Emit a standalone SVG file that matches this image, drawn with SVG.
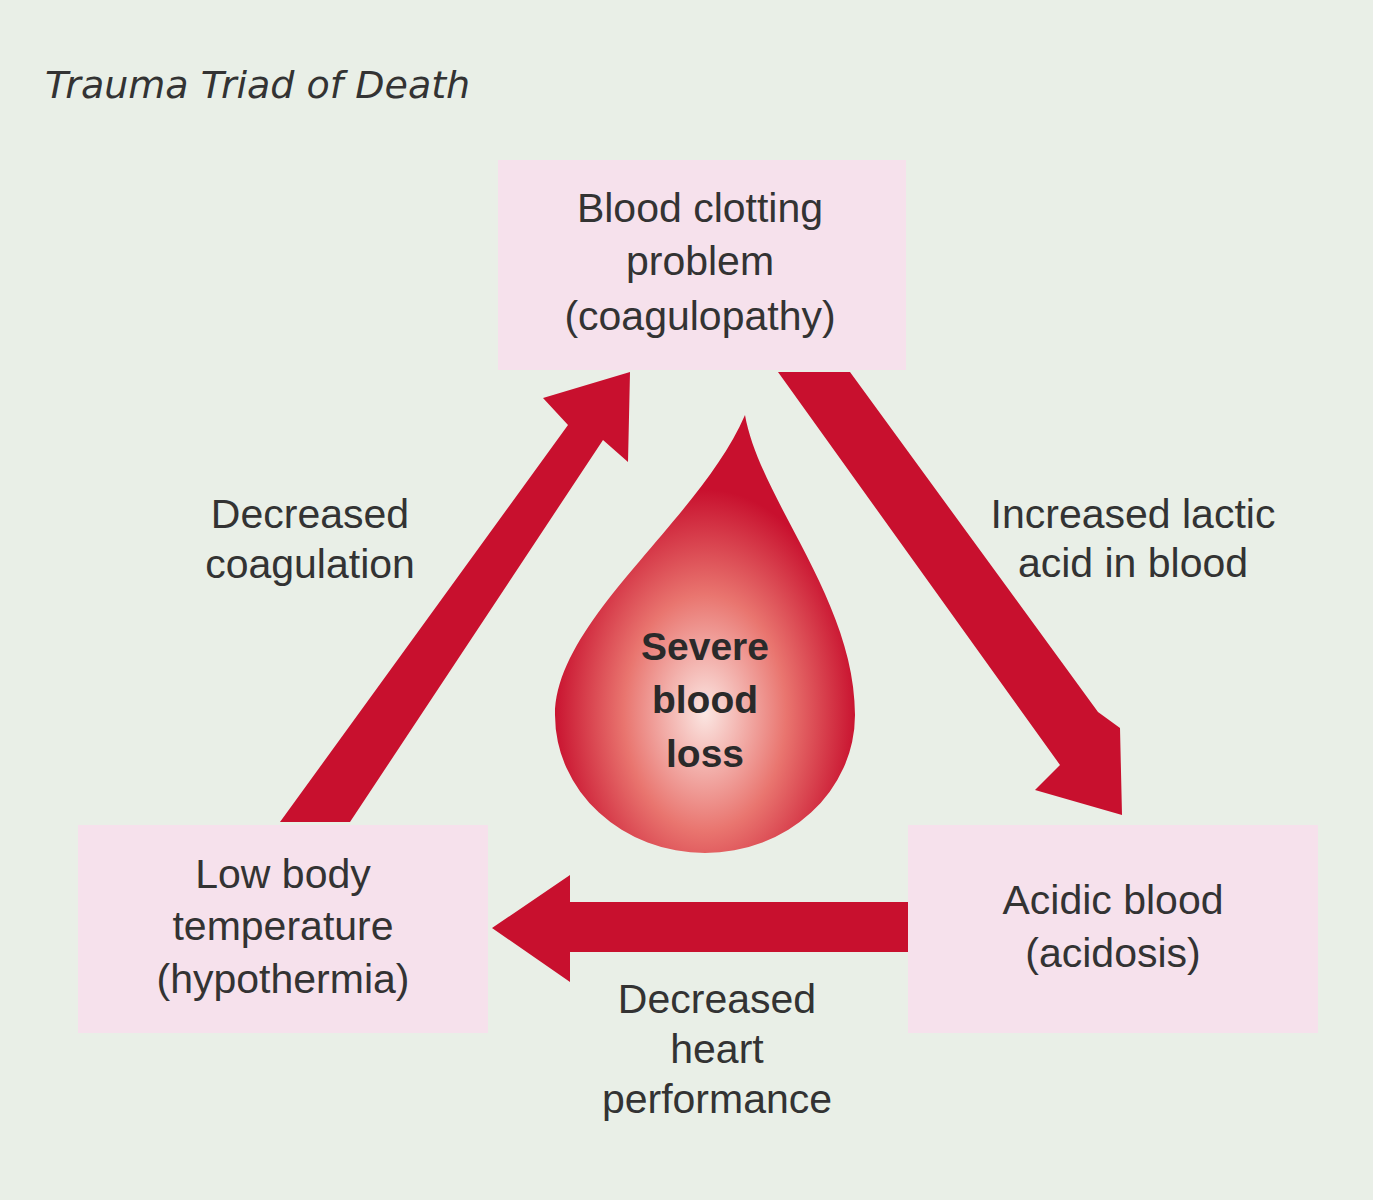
<svg xmlns="http://www.w3.org/2000/svg" width="1373" height="1200" viewBox="0 0 1373 1200">
<defs>
<radialGradient id="g" cx="0.5" cy="0.68" r="0.6">
<stop offset="0" stop-color="#fbe6e2"/><stop offset="0.45" stop-color="#e9756f"/><stop offset="0.85" stop-color="#c8102e"/>
</radialGradient>
<style>
.box{fill:#f6e1ec}
.t{font-family:"Liberation Sans",Arial,sans-serif;font-size:41px;fill:#333;text-anchor:middle}
.b{font-weight:bold;font-size:39px;fill:#2a2a2a}
.arr{fill:#c8102e}
</style>
</defs>
<rect width="1373" height="1200" fill="#e9efe7"/>
<text x="45" y="98" font-family="'DejaVu Sans',sans-serif" font-style="italic" font-size="38" fill="#333">Trauma Triad of Death</text>
<g id="connectors">
<polygon class="arr" points="280,822 568,425 543,398 630,372 628,462 603,440 350,822"/>
<polygon class="arr" points="778,372 850,372 1098,712 1120,728 1122,815 1035,790 1060,765"/>
<polygon class="arr" points="908,902 570,902 570,875 492,928 570,982 570,952 908,952"/>
</g>
<g id="drop">
<path d="M745,415 C760,500 855,600 855,715 A150,138 0 0 1 555,715 C555,620 700,520 745,415 Z" fill="url(#g)"/>
<text class="t b" x="705" y="660">Severe</text>
<text class="t b" x="705" y="713">blood</text>
<text class="t b" x="705" y="767">loss</text>
</g>
<g id="top">
<rect class="box" x="498" y="160" width="408" height="210"/>
<text class="t" x="700" y="222">Blood clotting</text>
<text class="t" x="700" y="275">problem</text>
<text class="t" x="700" y="330">(coagulopathy)</text>
</g>
<g id="left">
<rect class="box" x="78" y="825" width="410" height="208"/>
<text class="t" x="283" y="888">Low body</text>
<text class="t" x="283" y="940">temperature</text>
<text class="t" x="283" y="993">(hypothermia)</text>
</g>
<g id="right">
<rect class="box" x="908" y="825" width="410" height="208"/>
<text class="t" x="1113" y="914">Acidic blood</text>
<text class="t" x="1113" y="967">(acidosis)</text>
</g>
<g id="labels">
<text class="t" x="310" y="528">Decreased</text>
<text class="t" x="310" y="578">coagulation</text>
<text class="t" x="1133" y="528">Increased lactic</text>
<text class="t" x="1133" y="577">acid in blood</text>
<text class="t" x="717" y="1013">Decreased</text>
<text class="t" x="717" y="1063">heart</text>
<text class="t" x="717" y="1113">performance</text>
</g>
</svg>
